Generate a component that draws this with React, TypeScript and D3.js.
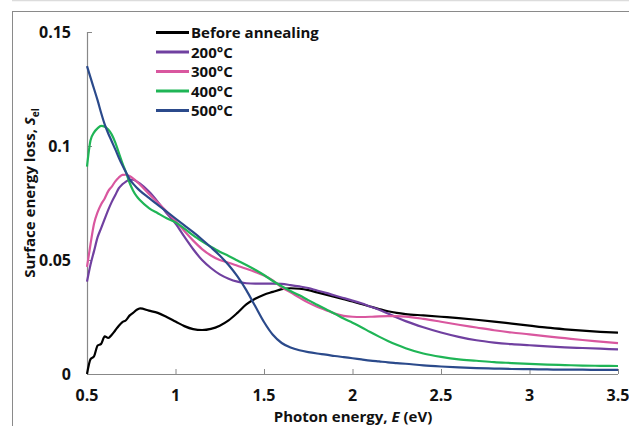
import React from "react";
import * as d3 from "d3";

// Photon energy grid (eV) shared by all spectra
const energy = [
  0.5, 0.52, 0.54, 0.56, 0.58, 0.6, 0.62, 0.64, 0.66, 0.68, 0.7, 0.72, 0.74, 0.76, 0.78, 0.8,
  0.85, 0.9, 0.95, 1.0, 1.05, 1.1, 1.15, 1.2, 1.25, 1.3, 1.35, 1.4, 1.45, 1.5, 1.55, 1.6, 1.65,
  1.7, 1.75, 1.8, 1.85, 1.9, 1.95, 2.0, 2.05, 2.1, 2.15, 2.2, 2.25, 2.3,
  2.4, 2.5, 2.6, 2.7, 2.8, 2.9, 3.0, 3.1, 3.2, 3.3, 3.4, 3.5,
];

// Surface energy loss S_el for each annealing state
const beforeAnnealing = [
  0.0, 0.0065, 0.0078, 0.0125, 0.0132, 0.0165, 0.0158, 0.0172, 0.0192, 0.0212, 0.0228, 0.0236, 0.0256, 0.0268, 0.0281, 0.0288,
  0.0278, 0.0268, 0.025, 0.023, 0.021, 0.0197, 0.0193, 0.0198, 0.0212, 0.0235, 0.0268, 0.0305, 0.033, 0.0348, 0.036, 0.0372, 0.0376,
  0.0374, 0.0368, 0.0358, 0.0348, 0.0338, 0.0328, 0.0318, 0.0307, 0.0296, 0.0285, 0.0275, 0.0268, 0.0263,
  0.0257, 0.0251, 0.0245, 0.0238, 0.023, 0.0221, 0.0212, 0.0203, 0.0196, 0.019, 0.0185, 0.0181,
];
const annealed200 = [
  0.0405, 0.048, 0.054, 0.06, 0.064, 0.068, 0.072, 0.0755, 0.0785, 0.0815, 0.0832, 0.0844, 0.0852, 0.0852, 0.0845, 0.0835,
  0.08, 0.0755, 0.0705, 0.066, 0.0602, 0.0547, 0.05, 0.0465, 0.0437, 0.0418, 0.0405, 0.0398, 0.0396, 0.0396, 0.0396, 0.0395, 0.039,
  0.0384, 0.0377, 0.0366, 0.0356, 0.0344, 0.0333, 0.0322, 0.031, 0.0296, 0.0282, 0.0265, 0.0248, 0.0232,
  0.0205, 0.0182, 0.0163, 0.0148, 0.0138, 0.0131, 0.0126, 0.0121, 0.0117, 0.0114, 0.0111, 0.0108,
];
const annealed300 = [
  0.047, 0.057, 0.066, 0.071, 0.0745, 0.077, 0.0802, 0.0822, 0.0845, 0.0862, 0.0873, 0.0874, 0.0868, 0.0858, 0.0845, 0.083,
  0.079, 0.0752, 0.0712, 0.0672, 0.0627, 0.0585, 0.0548, 0.052, 0.05, 0.0488, 0.0475, 0.0462, 0.0448, 0.0432, 0.041, 0.038, 0.0358,
  0.0335, 0.0313, 0.0295, 0.028, 0.0265, 0.0255, 0.0251, 0.025, 0.0251, 0.0253, 0.0254, 0.0254, 0.0252,
  0.0242, 0.0229, 0.0216, 0.0204, 0.0192, 0.0182, 0.0174, 0.0165, 0.0157, 0.0149, 0.0142, 0.0135,
];
const annealed400 = [
  0.091, 0.1025, 0.106, 0.1078, 0.1088, 0.1085, 0.1072, 0.105, 0.1015, 0.097, 0.0925, 0.0885, 0.084, 0.0805, 0.078, 0.0762,
  0.0728, 0.0705, 0.0683, 0.0665, 0.0638, 0.0608, 0.0582, 0.0558, 0.0536, 0.0518, 0.0498, 0.0478, 0.0457, 0.0434, 0.0408, 0.0385, 0.0364,
  0.0345, 0.0324, 0.0304, 0.0284, 0.0264, 0.0243, 0.0225, 0.0205, 0.0184, 0.0164, 0.0145, 0.0128, 0.0113,
  0.009, 0.0075, 0.0064, 0.0058, 0.0052, 0.0048, 0.0044, 0.0041, 0.0039, 0.0037, 0.0036, 0.0035,
];
const annealed500 = [
  0.135, 0.13, 0.125, 0.12, 0.1145, 0.1095, 0.1055, 0.102, 0.0985, 0.0948, 0.0915, 0.0885, 0.0855, 0.0835, 0.0818, 0.0803,
  0.0772, 0.0742, 0.0712, 0.0682, 0.0652, 0.0622, 0.059, 0.0556, 0.052, 0.0478, 0.0428, 0.0368, 0.0298, 0.0228, 0.0172, 0.0136, 0.0116,
  0.0104, 0.0096, 0.009, 0.0085, 0.0079, 0.0074, 0.0069, 0.0064, 0.0059, 0.0055, 0.0051, 0.0048, 0.0045,
  0.0038, 0.0033, 0.0029, 0.0026, 0.0024, 0.0022, 0.0021, 0.002, 0.0019, 0.0019, 0.0018, 0.0018,
];

const seriesNames = ["Before annealing", "200°C", "300°C", "400°C", "500°C"];
const seriesColors = ["#000000", "#7040a0", "#d9579f", "#1fb556", "#2b4a8b"];
const seriesValues = [beforeAnnealing, annealed200, annealed300, annealed400, annealed500];

const xTicks = [0.5, 1, 1.5, 2, 2.5, 3, 3.5];
const yTicks = [0, 0.05, 0.1, 0.15];

const W = 629;
const H = 426;
const FONT = "'Open Sans', 'DejaVu Sans', sans-serif";

export default function App() {
  const x = d3.scaleLinear().domain([0.5, 3.5]).range([87, 618]);
  const y = d3.scaleLinear().domain([0, 0.15]).range([374, 32]);
  const line = d3
    .line<[number, number]>()
    .x((d) => x(d[0]))
    .y((d) => y(d[1]))
    .curve(d3.curveMonotoneX);

  const axisColor = "#888888";

  return (
    <svg
      width={W}
      height={H}
      style={{ position: "absolute", left: 0, top: 0, background: "#fff" }}
      fontFamily={FONT}
    >
      <rect x={0} y={0} width={W} height={H} fill="#fff" />
      {/* outer frame */}
      <line x1={12} x2={W} y1={0.5} y2={0.5} stroke="#dcdcdc" strokeWidth={1.5} />
      <rect x={12.5} y={11.5} width={W + 20} height={H + 20} fill="none" stroke="#8a8a8a" strokeWidth={1} />

      {/* axes */}
      <line x1={x(0.5)} x2={x(3.5)} y1={y(0) + 0.5} y2={y(0) + 0.5} stroke={axisColor} strokeWidth={1.2} />
      <line x1={x(0.5) + 0.5} x2={x(0.5) + 0.5} y1={y(0)} y2={y(0.15)} stroke={axisColor} strokeWidth={1.2} />
      {xTicks.map((t) => (
        <g key={"xt" + t}>
          <line x1={x(t) + 0.5} x2={x(t) + 0.5} y1={y(0)} y2={y(0) - 5} stroke={axisColor} strokeWidth={1} />
          <text x={x(t)} y={401} textAnchor="middle" fontSize={16} fontWeight="bold" fill="#111">
            {t}
          </text>
        </g>
      ))}
      {yTicks.map((t) => (
        <g key={"yt" + t}>
          <line x1={x(0.5)} x2={x(0.5) + 5} y1={y(t) + 0.5} y2={y(t) + 0.5} stroke={axisColor} strokeWidth={1} />
          <text x={71} y={y(t) + 6} textAnchor="end" fontSize={16} fontWeight="bold" fill="#111">
            {t}
          </text>
        </g>
      ))}

      {/* axis titles */}
      <text x={353} y={422} textAnchor="middle" fontSize={15} fontWeight="bold" fill="#111">
        Photon energy, <tspan fontStyle="italic">E</tspan> (eV)
      </text>
      <text
        transform="translate(35,193) rotate(-90)"
        textAnchor="middle"
        fontSize={15}
        fontWeight="bold"
        fill="#111"
      >
        Surface energy loss, <tspan fontStyle="italic">S</tspan>
        <tspan fontSize={10} dy={4}>el</tspan>
      </text>

      {/* spectra */}
      {seriesValues.map((vals, i) => (
        <path
          key={seriesNames[i]}
          d={line(energy.map((e, j) => [e, vals[j]] as [number, number])) || ""}
          fill="none"
          stroke={seriesColors[i]}
          strokeWidth={2.2}
          strokeLinejoin="round"
        />
      ))}

      {/* legend */}
      {seriesNames.map((name, i) => {
        const ly = 32.5 + i * 19.5;
        return (
          <g key={"lg" + name}>
            <line x1={156} x2={189} y1={ly} y2={ly} stroke={seriesColors[i]} strokeWidth={3} />
            <text x={191} y={ly + 5.5} fontSize={15} fontWeight="bold" fill="#111">
              {name}
            </text>
          </g>
        );
      })}
    </svg>
  );
}
